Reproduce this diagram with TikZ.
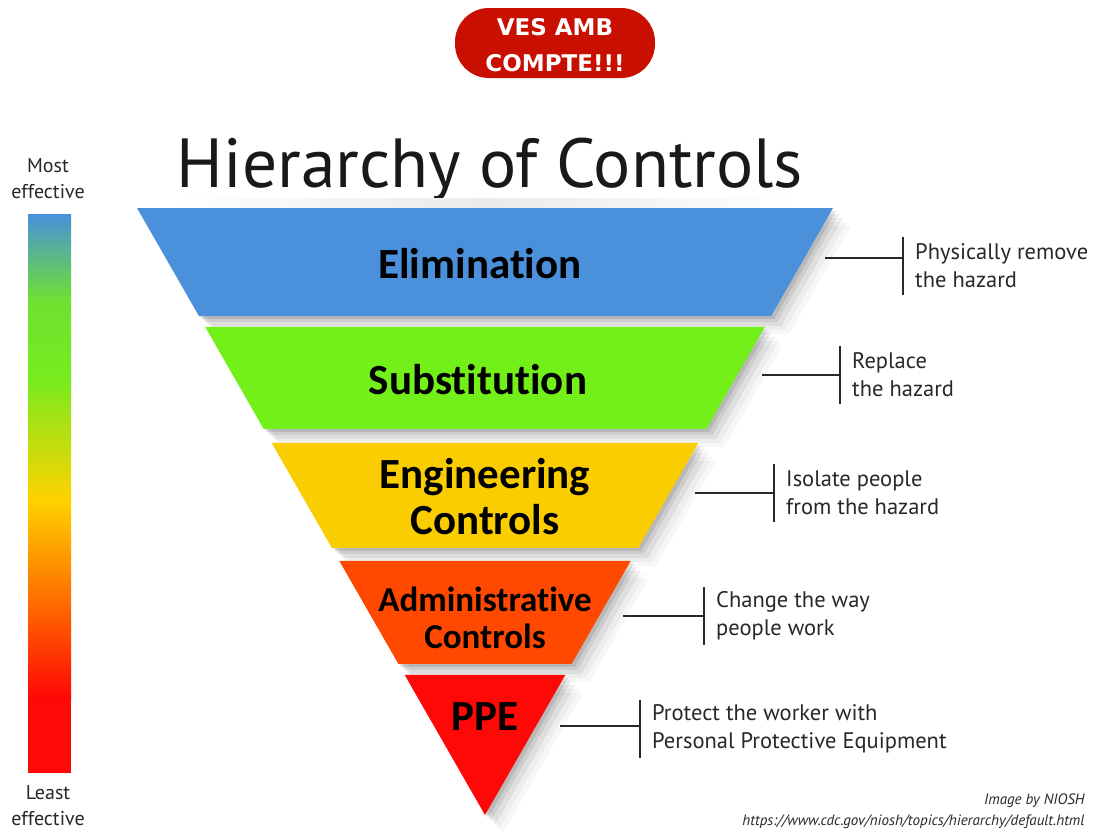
\documentclass[tikz,border=0pt]{standalone}
\usepackage{fontspec}
\setmainfont{PT Sans}
\newfontfamily\bandfont{Carlito}[Ligatures=NoCommon]
\newfontfamily\badgefont{DejaVu Sans}
\usetikzlibrary{calc}

\definecolor{elimblue}{RGB}{74,144,219}
\definecolor{substgreen}{RGB}{115,240,25}
\definecolor{enggold}{RGB}{250,205,0}
\definecolor{adminorange}{RGB}{255,72,0}
\definecolor{ppered}{RGB}{255,8,8}
\definecolor{badgered}{RGB}{200,15,0}
\definecolor{inkgray}{RGB}{40,40,40}

\tikzset{
  bandlabel/.style={font=\bandfont\bfseries\fontsize{43}{46}\selectfont, align=center, text=black},
  notetext/.style={font=\fontsize{22.5}{28}\selectfont, align=left, anchor=west, text=inkgray,
    inner xsep=12pt, inner ysep=0pt, minimum height=58pt},
  bracket/.style={draw=inkgray, line width=1.3pt},
}

% band between two fractions of the way from the top edge to the apex
\newcommand{\bandpath}[2]{($(TL)!#1!(AP)$) -- ($(TR)!#1!(AP)$) -- ($(TR)!#2!(AP)$) -- ($(TL)!#2!(AP)$) -- cycle}

\begin{document}
\begin{tikzpicture}[x=1pt,y=-1pt]
\useasboundingbox (0,0) rectangle (1098,831);
\fill[white] (0,0) rectangle (1098,831);

% badge
\path (555,43) node[fill=badgered, rounded corners=34pt, minimum width=200pt, minimum height=70pt] (badge) {};
\path (555,27) node[text=white, font=\badgefont\bfseries\fontsize{23}{24}\selectfont] (ves) {VES AMB};
\path (555,63) node[text=white, font=\badgefont\bfseries\fontsize{23}{24}\selectfont] (compte) {COMPTE!!!};

\path (490,187) node[anchor=base, font=\fontsize{69.5}{70}\selectfont, text=black!90] (title) {Hierarchy of Controls};

\coordinate (TL) at (137,208);
\coordinate (TR) at (833,208);
\coordinate (AP) at (485,815);

\shade[left color=white, right color=white, middle color=black!8] (170,198) rectangle (800,208);

% soft shadow
\foreach \s/\o in {3/0.10, 6/0.08, 10/0.06, 14/0.04, 18/0.03} {
  \begin{scope}[transform canvas={shift={(\s,\s)}}]
  \fill[black, opacity=\o] \bandpath{0}{0.178};
  \fill[black, opacity=\o] \bandpath{0.196}{0.364};
  \fill[black, opacity=\o] \bandpath{0.387}{0.560};
  \fill[black, opacity=\o] \bandpath{0.5815}{0.751};
  \fill[black, opacity=\o] \bandpath{0.769}{1};
  \end{scope}
}

\fill[elimblue] \bandpath{0}{0.178};
\fill[substgreen] \bandpath{0.196}{0.364};
\fill[enggold] \bandpath{0.387}{0.560};
\fill[adminorange] \bandpath{0.5815}{0.751};
\fill[ppered] \bandpath{0.769}{1};

\path (480,264) node[bandlabel] (elim) {Elimination};
\path (478,380) node[bandlabel] (subst) {Substitution};
\path (485,497) node[bandlabel] (eng) {Engineering\\Controls};
\path (485,618) node[bandlabel, font=\bandfont\bfseries\fontsize{35}{37}\selectfont] (admin) {Administrative\\Controls};
\path (485,717) node[bandlabel] (ppe) {PPE};

% notes on the right
\path (903,266) node[notetext] (elimnote) {Physically remove\\the hazard};
\path (840,375) node[notetext] (substnote) {Replace\\the hazard};
\path (774,493) node[notetext] (engnote) {Isolate people\\from the hazard};
\path (704,616) node[notetext] (adminnote) {Change the way\\people work};
\path (640,729) node[notetext] (ppenote) {Protect the worker with\\Personal Protective Equipment};

\coordinate (e1) at (825,258);
\coordinate (e2) at (762,375);
\coordinate (e3) at (695,493);
\coordinate (e4) at (623,616);
\coordinate (e5) at (560,726);

\draw[bracket] (e1) -- (e1 -| elimnote.west);
\draw[bracket] (e2) -- (e2 -| substnote.west);
\draw[bracket] (e3) -- (e3 -| engnote.west);
\draw[bracket] (e4) -- (e4 -| adminnote.west);
\draw[bracket] (e5) -- (e5 -| ppenote.west);
\draw[bracket] (elimnote.north west) -- (elimnote.south west);
\draw[bracket] (substnote.north west) -- (substnote.south west);
\draw[bracket] (engnote.north west) -- (engnote.south west);
\draw[bracket] (adminnote.north west) -- (adminnote.south west);
\draw[bracket] (ppenote.north west) -- (ppenote.south west);

% effectiveness scale
\shade[top color=elimblue, bottom color={rgb,255:red,110;green,225;blue,50}] (28,214) rectangle (71,300);
\shade[top color={rgb,255:red,110;green,225;blue,50}, bottom color={rgb,255:red,120;green,235;blue,30}] (28,299.5) rectangle (71,380);
\shade[top color={rgb,255:red,120;green,235;blue,30}, bottom color={rgb,255:red,255;green,210;blue,0}] (28,379.5) rectangle (71,500);
\shade[top color={rgb,255:red,255;green,210;blue,0}, bottom color={rgb,255:red,255;green,90;blue,0}] (28,499.5) rectangle (71,620);
\shade[top color={rgb,255:red,255;green,90;blue,0}, bottom color={rgb,255:red,255;green,5;blue,5}] (28,619.5) rectangle (71,700);
\fill[ppered] (28,699.5) rectangle (71,773);

\path (48,179) node[align=center, inner sep=1pt, font=\fontsize{20}{26}\selectfont, text=inkgray] (most) {Most\\effective};
\path (48,806) node[align=center, inner sep=1pt, font=\fontsize{20}{26}\selectfont, text=inkgray] (least) {Least\\effective};

\path (1088,801) node[anchor=east, font=\itshape\fontsize{15}{16}\selectfont, text=inkgray] (credit) {Image by NIOSH};
\path (1088,822) node[anchor=east, font=\itshape\fontsize{15}{16}\selectfont, text=inkgray] (url) {https://www.cdc.gov/niosh/topics/hierarchy/default.html};
\end{tikzpicture}
\end{document}
